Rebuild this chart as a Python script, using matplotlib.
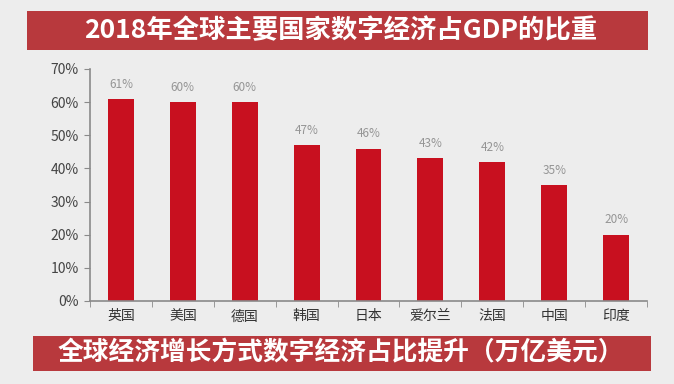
import matplotlib
matplotlib.use("Agg")
import matplotlib.pyplot as plt
from matplotlib.patches import Rectangle
from matplotlib.ticker import FixedLocator, PercentFormatter

plt.rcParams['font.family'] = ['Noto Sans CJK SC', 'DejaVu Sans']

countries = ["英国", "美国", "德国", "韩国", "日本", "爱尔兰", "法国", "中国", "印度"]
shares = [61, 60, 60, 47, 46, 43, 42, 35, 20]
value_labels = ["61%", "60%", "60%", "47%", "46%", "43%", "42%", "35%", "20%"]
title_text = "2018年全球主要国家数字经济占GDP的比重"
bottom_text = "全球经济增长方式数字经济占比提升（万亿美元）"

bg = "#ededed"
banner = "#b8393d"
bar_color = "#c8101f"
axis_color = "#8a8a8a"

fig = plt.figure(figsize=(6.74, 3.84), dpi=100, facecolor=bg)
W, H = 674, 384

def fx(px):
    return px / W

def fy(py):
    return 1 - py / H

# Banners
fig.patches.append(Rectangle((fx(27), fy(50)), fx(648) - fx(27), fy(11) - fy(50),
                             transform=fig.transFigure, facecolor=banner, edgecolor="none", zorder=0))
fig.text(fx(341), fy(31), title_text, color="white", fontsize=19, fontweight="bold",
         ha="center", va="center")
fig.patches.append(Rectangle((fx(33), fy(371)), fx(651) - fx(33), fy(336) - fy(371),
                             transform=fig.transFigure, facecolor=banner, edgecolor="none", zorder=0))
fig.text(fx(341), fy(353), bottom_text, color="white", fontsize=18.5, fontweight="bold",
         ha="center", va="center")

ax = fig.add_axes([fx(90), fy(301), fx(647) - fx(90), fy(69) - fy(301)])
ax.set_facecolor(bg)
x = list(range(len(countries)))
bars = ax.bar(x, shares, width=0.42, color=bar_color, zorder=2)
for xi, v, lab in zip(x, shares, value_labels):
    ax.text(xi, v + 2.5, lab, ha="center", va="bottom", fontsize=8.5, color="#959595")

ax.set_xlim(-0.5, len(countries) - 0.5)
ax.set_ylim(0, 70)
ax.set_yticks(range(0, 71, 10))
ax.yaxis.set_major_formatter(PercentFormatter(decimals=0))
ax.set_xticks(x)
ax.set_xticklabels(countries, fontsize=10, color="#333333")
ax.xaxis.set_minor_locator(FixedLocator([i + 0.5 for i in range(-1, len(countries))]))
ax.tick_params(axis="x", which="major", length=0, pad=6)
ax.tick_params(axis="x", which="minor", length=4, color=axis_color, direction="out")
ax.tick_params(axis="y", length=4, color=axis_color, labelsize=10, labelcolor="#444444", pad=4)
for s in ["top", "right"]:
    ax.spines[s].set_visible(False)
for s in ["left", "bottom"]:
    ax.spines[s].set_color(axis_color)
    ax.spines[s].set_linewidth(1.2)

fig.savefig("out.png", dpi=100, facecolor=bg)
